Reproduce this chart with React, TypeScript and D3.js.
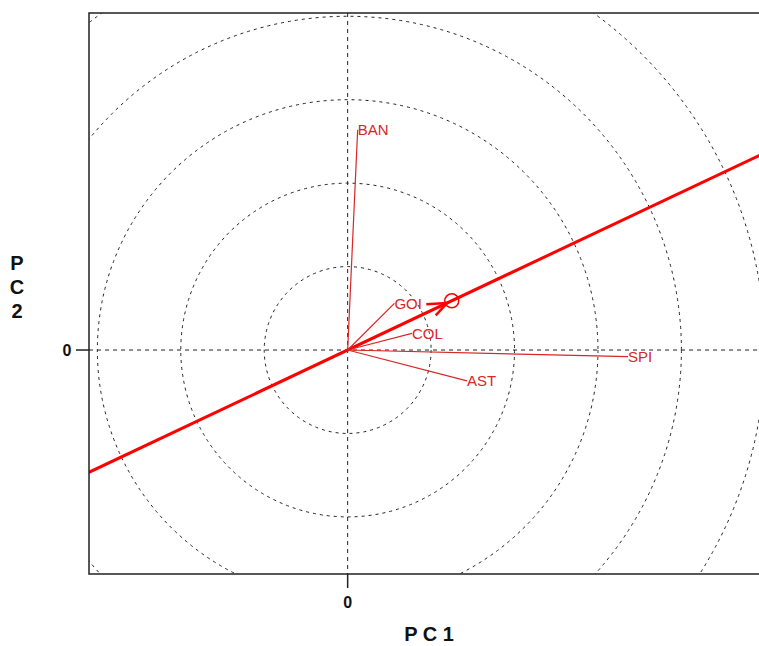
import React from "react";
import * as d3 from "d3";

// Environment vectors (PC1, PC2 scores)
const envNames = ["BAN", "GOI", "COL", "SPI", "AST"];
const envPC1 = [0.12, 0.56, 0.77, 3.36, 1.43];
const envPC2 = [2.64, 0.56, 0.2, -0.08, -0.37];

// Concentric reference rings (radius in PC units)
const ringRadii = [1, 2, 3, 4, 5];

const axisTicks = [0];

const W = 759;
const H = 646;
const left = 89;
const right = 759;
const top = 13;
const bottom = 574;

export default function App() {
  const x = d3.scaleLinear().domain([-3.1, 4.93]).range([left, right]);
  const y = d3.scaleLinear().domain([-2.685, 4.04]).range([bottom, top]);
  const unit = x(1) - x(0);

  // Average environment coordinate
  const avgX = d3.mean(envPC1) as number;
  const avgY = d3.mean(envPC2) as number;
  const slope = avgY / avgX;
  const x0 = x.invert(left - 5);
  const x1 = x.invert(right + 5);

  const ox = x(0);
  const oy = y(0);
  const ax = x(avgX);
  const ay = y(avgY);
  const ang = Math.atan2(ay - oy, ax - ox);
  const tipX = ax - 5 * Math.cos(ang);
  const tipY = ay - 5 * Math.sin(ang);
  const barb = 21;
  const spread = (22 * Math.PI) / 180;
  const back = ang + Math.PI;
  const b1x = tipX + barb * Math.cos(back + spread);
  const b1y = tipY + barb * Math.sin(back + spread);
  const b2x = tipX + 17 * Math.cos(back - spread);
  const b2y = tipY + 17 * Math.sin(back - spread);

  const red = "#d92626";

  return (
    <svg
      width={W}
      height={H}
      style={{ position: "absolute", left: 0, top: 0, background: "#fff" }}
      fontFamily="'Liberation Sans', Arial, sans-serif"
    >
      <defs>
        <clipPath id="plotArea">
          <rect x={left} y={top} width={right - left + 20} height={bottom - top} />
        </clipPath>
      </defs>

      <g clipPath="url(#plotArea)">
        {ringRadii.map((r) => (
          <circle
            key={r}
            cx={ox}
            cy={oy}
            r={r * unit}
            fill="none"
            stroke="#222"
            strokeWidth={1}
            strokeDasharray="3,4"
          />
        ))}
        <line x1={ox} x2={ox} y1={top} y2={bottom} stroke="#222" strokeDasharray="4,4" />
        <line x1={left} x2={right} y1={oy} y2={oy} stroke="#222" strokeDasharray="4,4" />

        {/* Average environment axis */}
        <line
          x1={x(x0)}
          y1={y(x0 * slope)}
          x2={x(x1)}
          y2={y(x1 * slope)}
          stroke="#ff0000"
          strokeWidth={3}
        />

        {envNames.map((n, i) => (
          <g key={n}>
            <line
              x1={ox}
              y1={oy}
              x2={x(envPC1[i])}
              y2={y(envPC2[i])}
              stroke={red}
              strokeWidth={1.2}
            />
            <text
              x={x(envPC1[i])}
              y={y(envPC2[i])}
              dy="0.35em"
              fontSize={15}
              fill={red}
            >
              {n}
            </text>
          </g>
        ))}

        {/* Arrow and marker at the average environment */}
        <line x1={b1x} y1={b1y} x2={tipX} y2={tipY} stroke="#ff0000" strokeWidth={2.5} />
        <line x1={b2x} y1={b2y} x2={tipX} y2={tipY} stroke="#ff0000" strokeWidth={2.5} />
        <circle cx={ax} cy={ay} r={7} fill="none" stroke="#ff0000" strokeWidth={1.5} />
      </g>

      {/* Frame (open on the right) */}
      <path
        d={`M${right + 5},${top}H${left}V${bottom}H${right + 5}`}
        fill="none"
        stroke="#222"
        strokeWidth={1.5}
      />

      {axisTicks.map((t) => (
        <g key={"x" + t}>
          <line x1={x(t)} x2={x(t)} y1={bottom} y2={bottom + 14} stroke="#222" strokeWidth={1.5} />
          <text x={x(t)} y={bottom + 34} textAnchor="middle" fontSize={16} fontWeight="bold" fill="#111">
            {t}
          </text>
        </g>
      ))}
      {axisTicks.map((t) => (
        <g key={"y" + t}>
          <line x1={left - 13} x2={left} y1={y(t)} y2={y(t)} stroke="#222" strokeWidth={1.5} />
          <text x={67} y={y(t)} dy="0.35em" textAnchor="middle" fontSize={16} fontWeight="bold" fill="#111">
            {t}
          </text>
        </g>
      ))}

      <text x={429} y={641} textAnchor="middle" fontSize={20} fontWeight="bold" fill="#111">
        P C 1
      </text>
      {["P", "C", "2"].map((c, i) => (
        <text
          key={i}
          x={17}
          y={263 + i * 24}
          dy="0.35em"
          textAnchor="middle"
          fontSize={20}
          fontWeight="bold"
          fill="#111"
        >
          {c}
        </text>
      ))}
    </svg>
  );
}
